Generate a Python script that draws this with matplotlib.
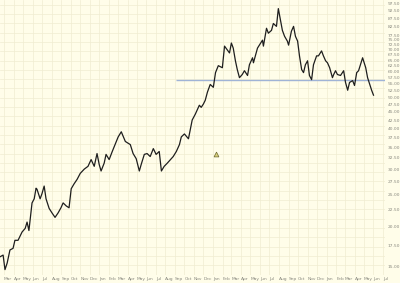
import numpy as np
import pandas as pd
import matplotlib as mpl
mpl.use('Agg')
from matplotlib import pyplot as plt
import matplotlib.dates as mdates
from matplotlib.ticker import FixedLocator, NullFormatter, NullLocator

# ---------------------------------------------------------------
# price series: days after first bar, close
# ---------------------------------------------------------------
start = pd.Timestamp('2003-02-16')

day_offsets = [0, 10, 16, 23, 32, 42, 48, 58, 71, 81, 87, 93, 103, 110, 116, 119,
               129, 135, 142, 148, 158, 167, 177, 187, 196, 203, 213, 222, 229,
               238, 248, 258, 271, 283, 293, 303, 312, 319, 325, 335, 341, 351,
               361, 370, 380, 390, 403, 419, 428, 438, 448, 454, 464, 473, 483,
               493, 502, 512, 519, 528, 538, 548, 557, 567, 577, 583, 593, 606,
               618, 628, 641, 647, 654, 660, 667, 676, 686, 693, 702, 715, 722,
               731, 738, 744, 750, 757, 763, 770, 779, 786, 796, 802, 812, 815,
               821, 828, 834, 844, 847, 857, 863, 873, 879, 889, 895, 902, 908,
               915, 924, 928, 937, 944, 950, 957, 963, 970, 976, 982, 989, 995,
               1002, 1008, 1018, 1024, 1034, 1040, 1047, 1053, 1060, 1069, 1073,
               1079, 1085, 1095, 1105, 1111, 1118, 1124, 1134, 1140, 1147, 1153,
               1166, 1176, 1182, 1189, 1195, 1201]

closes = [16.1, 16.3, 14.7, 15.4, 16.9, 17.1, 18.1, 18.1, 19.2, 19.7, 20.6, 19.4,
          23.6, 24.3, 26.2, 26.0, 24.3, 25.2, 26.6, 24.3, 22.7, 22.0, 21.3, 22.0,
          22.8, 23.6, 23.1, 22.8, 26.1, 27.0, 27.9, 29.1, 30.0, 30.6, 32.1, 30.6,
          33.5, 31.0, 29.6, 31.3, 33.3, 32.1, 34.0, 35.7, 37.7, 39.1, 36.5, 35.7,
          33.5, 32.3, 29.6, 31.0, 33.3, 33.5, 32.8, 34.7, 33.3, 34.0, 29.6, 30.6,
          31.3, 32.1, 32.8, 34.0, 35.7, 37.7, 38.5, 37.2, 42.5, 44.3, 47.2, 46.5,
          47.6, 48.9, 51.8, 54.7, 53.6, 59.5, 62.5, 61.6, 71.8, 69.9, 68.4, 73.4,
          70.8, 64.7, 60.8, 57.4, 58.7, 60.3, 58.3, 62.9, 66.1, 63.8, 67.0, 70.8,
          72.3, 74.9, 71.8, 81.5, 78.7, 80.3, 84.3, 82.6, 93.7, 86.1, 80.3, 77.0,
          74.4, 72.3, 79.8, 82.6, 77.0, 74.4, 67.0, 60.8, 59.5, 62.9, 64.7, 58.3,
          56.6, 62.9, 67.0, 67.0, 69.4, 67.0, 64.7, 63.8, 61.6, 57.4, 58.7, 60.3,
          58.7, 58.3, 60.3, 55.5, 52.5, 55.5, 56.2, 54.3, 59.5, 60.3, 66.1, 61.6,
          57.4, 54.7, 52.5, 50.7]

# horizontal trend line and alert marker
hline_level = 56.5
hline_start = '2004-09-03'
alert_date = '2005-01-10'
alert_price = 33.3

price_ticks = [15, 17.5, 20, 22.5, 25, 27.5, 30, 32.5, 35, 37.5, 40, 42.5, 45,
               47.5, 50, 52.5, 55, 57.5, 60, 62.5, 65, 67.5, 70, 72.5, 75, 77.5,
               82.5, 87.5, 92.5, 97.5]

dates = start + pd.to_timedelta(day_offsets, unit='D')

bg = '#fffde9'
gridc = '#f0ecd2'
txtc = '#8a8a80'

fig = plt.figure(figsize=(4.0, 2.83), dpi=100, facecolor=bg)
ax = fig.add_axes([0.0, 0.03, 0.9625, 0.97], facecolor=bg)

ax.plot(dates, closes, color='#1e1e1e', lw=0.9, zorder=3)

ax.set_yscale('log')
ax.set_ylim(14.2, 99.6)
ax.set_xlim(pd.Timestamp('2003-02-16'), pd.Timestamp('2006-07-08'))

ax.hlines(hline_level, pd.Timestamp(hline_start), pd.Timestamp('2006-07-08'),
          color='#9fb3d6', lw=1.0, zorder=2)
ax.plot(pd.Timestamp(alert_date), alert_price, marker='^', ms=3.5,
        mfc='#d8cf7a', mec='#6b6630', mew=0.5, zorder=4)

# grid: months vertically, evenly spaced (in pixels) horizontally
ax.xaxis.set_major_locator(mdates.MonthLocator())
ax.xaxis.set_major_formatter(mdates.DateFormatter('%b'))
gy = np.exp(np.arange(np.log(14.2), np.log(99.6), 0.066))
ax.yaxis.set_major_locator(FixedLocator(price_ticks))
ax.yaxis.set_major_formatter(mpl.ticker.FuncFormatter(lambda v, p: '%.2f' % v))
ax.yaxis.set_minor_locator(NullLocator())
ax.yaxis.set_minor_formatter(NullFormatter())
for g in gy:
    ax.axhline(g, color=gridc, lw=0.5, zorder=0)
ax.grid(True, axis='x', color=gridc, lw=0.5, zorder=0)

ax.yaxis.tick_right()
ax.tick_params(axis='y', length=0, labelsize=3.2, labelcolor=txtc, pad=2)
ax.tick_params(axis='x', length=0, labelsize=3.2, labelcolor=txtc, pad=1.5)
for lab in ax.get_xticklabels():
    lab.set_horizontalalignment('left')

for s in ax.spines.values():
    s.set_visible(False)

fig.savefig('out.png', dpi=100, facecolor=bg)
